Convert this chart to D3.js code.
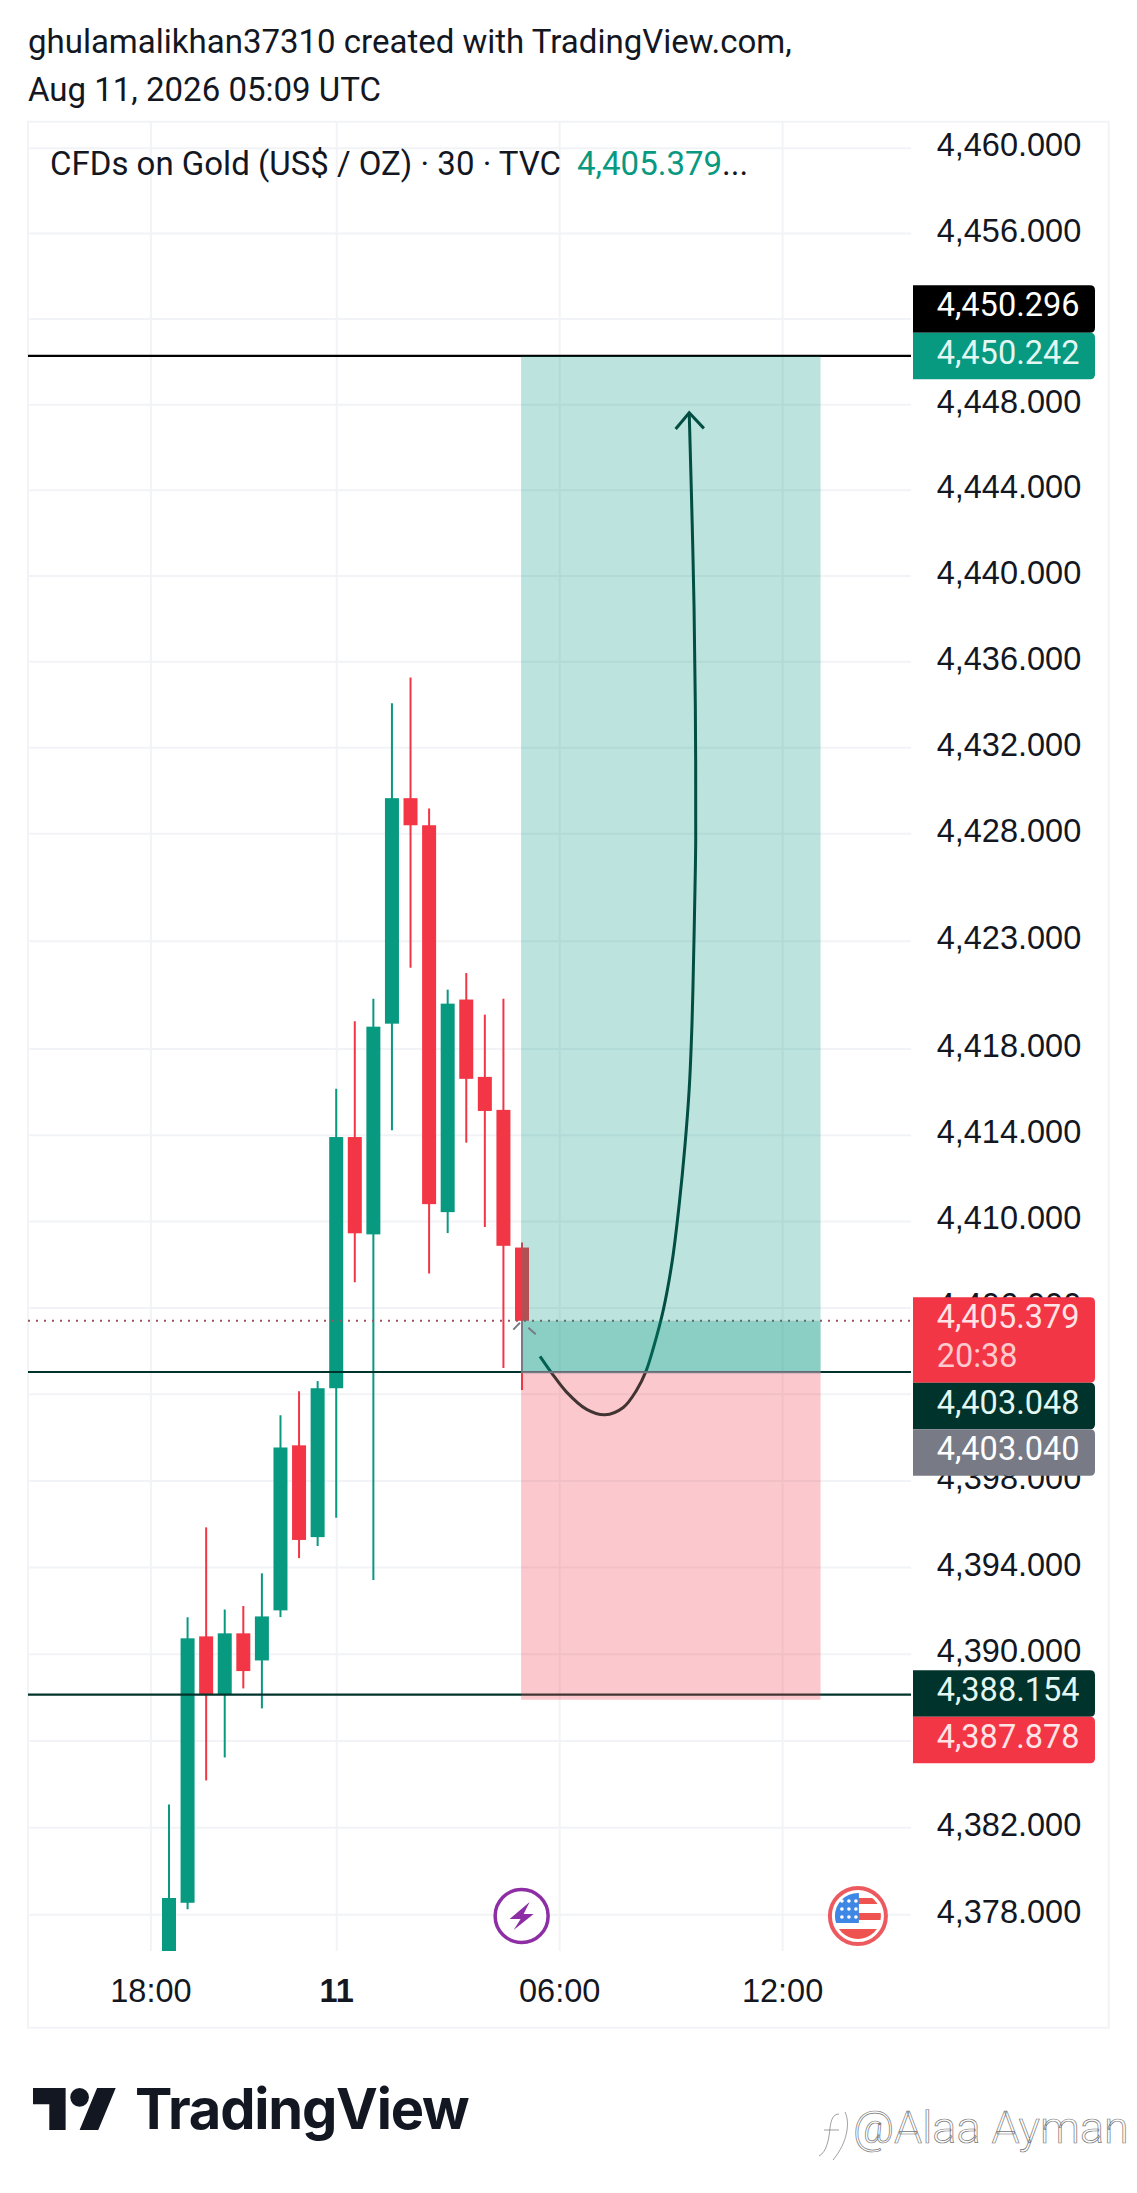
<!DOCTYPE html>
<html>
<head>
<meta http-equiv="Content-type" content="text/html; charset=utf-8">
<title>CFDs on Gold</title>
<script src="https://d3js.org/d3.v7.min.js"></script>
<style>
  html, body { margin: 0; padding: 0; background: #ffffff; }
  svg { display: block; font-family: Roboto, sans-serif; }
  text { fill: #131722; font-size: 32.5px; }
</style>
</head>
<body>
<script type="text/javascript">

// CANDLES, 30 MIN BARS, OLDEST FIRST
var barIndex = [0,1,2,3,4,5,6,7,8,9,10,11,12,13,14,15,16,17,18,19];
var barOpen  = [4376.00,4378.53,4390.80,4388.12,4390.94,4389.69,4392.00,4399.62,4395.38,4402.26,4413.89,4409.38,4419.15,4429.63,4428.37,4410.41,4420.27,4416.68,4415.15,4408.77];
var barHigh  = [4383.05,4391.68,4395.83,4392.04,4392.20,4393.71,4401.01,4402.12,4402.59,4416.13,4419.26,4420.31,4434.05,4435.25,4429.15,4420.73,4421.50,4419.57,4420.31,4409.00];
var barLow   = [4376.00,4378.23,4384.16,4385.22,4388.40,4387.48,4391.69,4394.41,4394.97,4396.27,4407.16,4393.40,4414.20,4421.75,4407.57,4409.44,4413.63,4409.72,4403.19,4402.18];
var barClose = [4378.75,4390.71,4388.12,4390.94,4389.20,4391.72,4399.52,4395.25,4402.26,4413.89,4409.43,4419.01,4429.63,4428.37,4410.78,4420.08,4416.59,4415.10,4408.85,4405.379];

// AXES
var priceTicks = [4460,4456,4452,4448,4444,4440,4436,4432,4428,4423,4418,4414,4410,4406,4402,4398,4394,4390,4386,4382,4378];
var coveredTicks = [4452,4402,4386]; // gridline only, the tags sit on top of these labels
var timeTickBars = [-1,9,21,33];
var timeTickLabels = ["18:00","11","06:00","12:00"];

// DRAWINGS
var horizontalLevels = [4450.296,4403.048,4388.154];
var horizontalColors = ["#000000","#00332b","#00332b"];
var currentPrice = 4405.379;
var positionBars = [18.95,35.07];
var positionTarget = 4450.242;
var positionEntry = 4403.04;
var positionStop = 4387.878;

// HAND DRAWN ARROW
var arrowBars   = [19.97,20.6,21.4,22.48,23.47,24.45,25.17,25.67,26.07,26.6,27.09,27.47,27.77,28.0,28.15,28.24,28.31,28.35,28.33,28.26,28.16,28.04,28.0];
var arrowPrices = [4403.73,4402.96,4402.08,4401.28,4401.03,4401.37,4402.17,4403.04,4404.12,4405.86,4408.17,4410.84,4413.48,4416.13,4419.16,4422.36,4425.37,4427.68,4433.89,4438.55,4442.45,4446.33,4447.6];
var headBars    = [27.27,28.0,28.79];
var headPrices  = [4446.84,4447.6,4446.87];

// PRICE SCALE TAGS
var tagValues = [4450.296,4450.242,4405.379,4403.048,4403.04,4388.154,4387.878];
var tagFills  = ["#000000","#089981","#f23645","#00332b","#787b86","#00332b","#f23645"];
var tagInks   = ["#ffffff","#e3f7f2","#ffe3e5","#e3f7f2","#ffffff","#e3f7f2","#ffe3e5"];
var countdownText = "20:38";

// EVENT ICONS, BAR POSITION
var eventBars = [18.98,37.08];

var width = 1137, height = 2193;
var paneLeft = 28, paneTop = 121.7, gridRight = 911, plotBottom = 1951, frameRight = 1108.7, frameBottom = 2027.7;
var greenColor = "#089981", redColor = "#f23645", gridColor = "#f2f3f6";

var x = d3.scaleLinear().domain([0,19]).range([169,522]);
var y = d3.scaleLog().domain([4460,4378]).range([147.7,1914.3]);

var svg = d3.select("body").append("svg").attr("width",width).attr("height",height);

// FRAME
svg.append("rect").attr("x",paneLeft).attr("y",paneTop)
  .attr("width",frameRight-paneLeft).attr("height",frameBottom-paneTop)
  .attr("fill","none").attr("stroke",gridColor).attr("stroke-width",2);

// HEADER
svg.append("text").attr("x",28).attr("y",53).style("font-size","33px").text("ghulamalikhan37310 created with TradingView.com,");
svg.append("text").attr("x",28).attr("y",101).style("font-size","33px").text("Aug 11, 2026 05:09 UTC");

// GRID + AXES
var priceFormat = d3.format(",.3f");
var priceAxis = d3.axisRight(y).tickValues(priceTicks).tickSize(gridRight-paneLeft).tickPadding(25.7)
  .tickFormat(function(d){ return coveredTicks.indexOf(d) >= 0 ? "" : priceFormat(d); });
var priceG = svg.append("g").attr("transform","translate("+paneLeft+",0)").call(priceAxis);
priceG.select(".domain").remove();
priceG.selectAll("line").attr("stroke",gridColor).attr("stroke-width",2);
priceG.selectAll("text").attr("dy",8).attr("fill","#131722");

var timeAxis = d3.axisBottom(x).tickValues(timeTickBars).tickSize(plotBottom-paneTop).tickPadding(50.7)
  .tickFormat(function(d){ return timeTickLabels[timeTickBars.indexOf(d)]; });
var timeG = svg.append("g").attr("transform","translate(0,"+paneTop+")").call(timeAxis);
timeG.select(".domain").remove();
timeG.selectAll("line").attr("stroke",gridColor).attr("stroke-width",2);
timeG.selectAll("text").attr("dy",0).attr("fill","#131722")
  .style("font-weight",function(d){ return d === 9 ? 700 : 400; });

// LEGEND
var legend = svg.append("text").attr("x",50).attr("y",175).style("font-size","33px");
legend.append("tspan").text("CFDs on Gold (US$ / OZ) \u00b7 30 \u00b7 TVC");
legend.append("tspan").attr("x",577).style("fill",greenColor).text("4,405.379");
legend.append("tspan").text("...");

// CLIP
svg.append("clipPath").attr("id","plotClip").append("rect")
  .attr("x",paneLeft).attr("y",paneTop).attr("width",gridRight-paneLeft).attr("height",plotBottom-paneTop);
var plot = svg.append("g").attr("clip-path","url(#plotClip)");

// CANDLES
var candleW = 14;
function barColor(i){ return barClose[i] >= barOpen[i] ? greenColor : redColor; }

plot.append("g").selectAll("line").data(barIndex).enter().append("line")
  .attr("x1",function(i){return x(i);}).attr("x2",function(i){return x(i);})
  .attr("y1",function(i){return y(barHigh[i]);}).attr("y2",function(i){return y(barLow[i]);})
  .attr("stroke",barColor).attr("stroke-width",2);

plot.append("g").selectAll("rect").data(barIndex).enter().append("rect")
  .attr("x",function(i){return x(i)-candleW/2;})
  .attr("width",candleW)
  .attr("y",function(i){return y(Math.max(barOpen[i],barClose[i]));})
  .attr("height",function(i){return Math.abs(y(barOpen[i])-y(barClose[i]));})
  .attr("fill",barColor);

// HORIZONTAL LINES
plot.append("g").attr("transform","translate(0,0.8)").selectAll("line").data(horizontalLevels).enter().append("line")
  .attr("x1",paneLeft).attr("x2",gridRight)
  .attr("y1",function(d){return y(d);}).attr("y2",function(d){return y(d);})
  .attr("stroke",function(d,i){return horizontalColors[i];}).attr("stroke-width",2.2);

plot.append("line").attr("x1",paneLeft).attr("x2",gridRight)
  .attr("y1",y(currentPrice)).attr("y2",y(currentPrice))
  .attr("stroke","#a0505c").attr("stroke-width",2).attr("stroke-dasharray","2 6");

// ARROW
var arrowLine = d3.line().x(function(d){return x(d[0]);}).y(function(d){return y(d[1]);}).curve(d3.curveCatmullRom.alpha(0.5));
var headLine = d3.line().x(function(d){return x(d[0]);}).y(function(d){return y(d[1]);});
plot.append("path").attr("d",arrowLine(d3.zip(arrowBars,arrowPrices)))
  .attr("fill","none").attr("stroke","#00332b").attr("stroke-width",3);
plot.append("path").attr("d",headLine(d3.zip(headBars,headPrices)))
  .attr("fill","none").attr("stroke","#00332b").attr("stroke-width",3);

// LONG POSITION ZONES
var zoneX = x(positionBars[0]), zoneW = x(positionBars[1])-x(positionBars[0]);
plot.append("rect").attr("x",zoneX).attr("width",zoneW)
  .attr("y",y(positionTarget)).attr("height",y(positionEntry)-y(positionTarget))
  .attr("fill",greenColor).attr("fill-opacity",0.27);
plot.append("rect").attr("x",zoneX).attr("width",zoneW)
  .attr("y",y(positionEntry)).attr("height",y(positionStop)-y(positionEntry))
  .attr("fill",redColor).attr("fill-opacity",0.27);
plot.append("rect").attr("x",zoneX).attr("width",zoneW)
  .attr("y",y(currentPrice)).attr("height",y(positionEntry)-y(currentPrice))
  .attr("fill",greenColor).attr("fill-opacity",0.27);
plot.append("line").attr("x1",zoneX).attr("x2",zoneX+zoneW)
  .attr("y1",y(positionEntry)+0.8).attr("y2",y(positionEntry)+0.8)
  .attr("stroke","#787b86").attr("stroke-width",2);

// PROGRESS MARKER ON ENTRY
plot.append("line").attr("x1",x(19)).attr("x2",x(19))
  .attr("y1",y(currentPrice)).attr("y2",y(positionEntry))
  .attr("stroke","#787b86").attr("stroke-width",2);
plot.append("path").attr("d",headLine([[18.53,4404.97],[18.89,4405.29]]))
  .attr("stroke","#787b86").attr("stroke-width",2).attr("fill","none");
plot.append("path").attr("d",headLine([[19.34,4405.06],[19.74,4404.76]]))
  .attr("stroke","#787b86").attr("stroke-width",2).attr("fill","none");

// PRICE TAGS, PUSHED APART LIKE THE PRICE SCALE DOES
var tagLeft = 913, tagRight = 1095, tagH = 46.5;
var tagTops = [], tagHeights = [];
tagValues.forEach(function(v,i){
  var h = v === currentPrice ? 85.4 : tagH;
  var top = y(v)-23.5;
  if (i > 1 && tagTops[i-1] + tagHeights[i-1] > top) top = tagTops[i-1] + tagHeights[i-1];
  tagTops.push(top);
  tagHeights.push(h);
});
tagTops[0] = tagTops[1]-tagH-1;
tagHeights[0] = tagH+1;

function tagPath(top,h){
  var r = 5;
  return "M"+tagLeft+","+top+"H"+(tagRight-r)+"Q"+tagRight+","+top+" "+tagRight+","+(top+r)
    +"V"+(top+h-r)+"Q"+tagRight+","+(top+h)+" "+(tagRight-r)+","+(top+h)+"H"+tagLeft+"Z";
}

var tags = svg.append("g").selectAll("g").data(tagValues).enter().append("g");
tags.append("path").attr("d",function(d,i){return tagPath(tagTops[i],tagHeights[i]);})
  .attr("fill",function(d,i){return tagFills[i];});
tags.append("text").attr("x",936.7).attr("y",function(d,i){return tagTops[i]+31;})
  .style("fill",function(d,i){return tagInks[i];})
  .text(function(d){return priceFormat(d);});
svg.append("text").attr("x",936.7).attr("y",tagTops[2]+70).style("fill","#ffc9cd").text(countdownText);

// EVENT ICONS
var iconY = 1916;
var bolt = svg.append("g").attr("transform","translate("+x(eventBars[0])+","+iconY+")");
bolt.append("circle").attr("r",26.5).attr("fill","#ffffff").attr("stroke","#8e2ea5").attr("stroke-width",3.5);
bolt.append("path").attr("d","M8,-14L-12,3L-1,3L-8,14L12,-2L2,-2Z").attr("fill","#8e2ea5");

var flag = svg.append("g").attr("transform","translate("+x(eventBars[1])+","+iconY+")");
svg.append("clipPath").attr("id","flagClip").append("circle").attr("r",23);
flag.append("circle").attr("r",28).attr("fill","#ffffff").attr("stroke","#ec5a5f").attr("stroke-width",4);
var flagInner = flag.append("g").attr("clip-path","url(#flagClip)");
flagInner.append("rect").attr("x",0).attr("y",-18).attr("width",24).attr("height",6).attr("fill","#ef5350");
flagInner.append("rect").attr("x",0).attr("y",-3).attr("width",24).attr("height",7).attr("fill","#ef5350");
flagInner.append("rect").attr("x",-24).attr("y",13).attr("width",48).attr("height",12).attr("fill","#ef5350");
flagInner.append("rect").attr("x",-24).attr("y",-24).attr("width",25).attr("height",31).attr("fill","#3f87e5");
[-16,-9,-2].forEach(function(sx){
  [-15,-7,1].forEach(function(sy){
    flag.append("circle").attr("cx",sx).attr("cy",sy).attr("r",1.8).attr("fill","#ffffff");
  });
});

// TRADINGVIEW LOGO
var logo = svg.append("g").attr("transform","translate(33,2078.7) scale(2.33)");
logo.append("path").attr("d","M14 22H7V11H0V4h14v18zM28 22h-8l7.5-18h8L28 22z").attr("fill","#131722");
logo.append("circle").attr("cx",20).attr("cy",8).attr("r",4).attr("fill","#131722");
svg.append("text").attr("x",135).attr("y",2129)
  .style("font-family","Inter, sans-serif").style("font-weight",700).style("font-size","56px").style("letter-spacing","-1.2px")
  .text("TradingView");

// WATERMARK
var mark = svg.append("g").style("fill","#ffffff").attr("stroke","#777777").attr("stroke-width",0.7);
mark.append("path").attr("transform","translate(7,2)").attr("d","M832,2112C826,2112 824,2118 823,2126C822,2136 820,2150 812,2154M817,2128H832M838,2110C843,2120 841,2140 826,2158").attr("fill","none");
mark.append("text").attr("x",853).attr("y",2143)
  .style("fill","#ffffff").style("font-weight",300).style("font-size","45px").text("@Alaa Ayman");

</script>
</body>
</html>
